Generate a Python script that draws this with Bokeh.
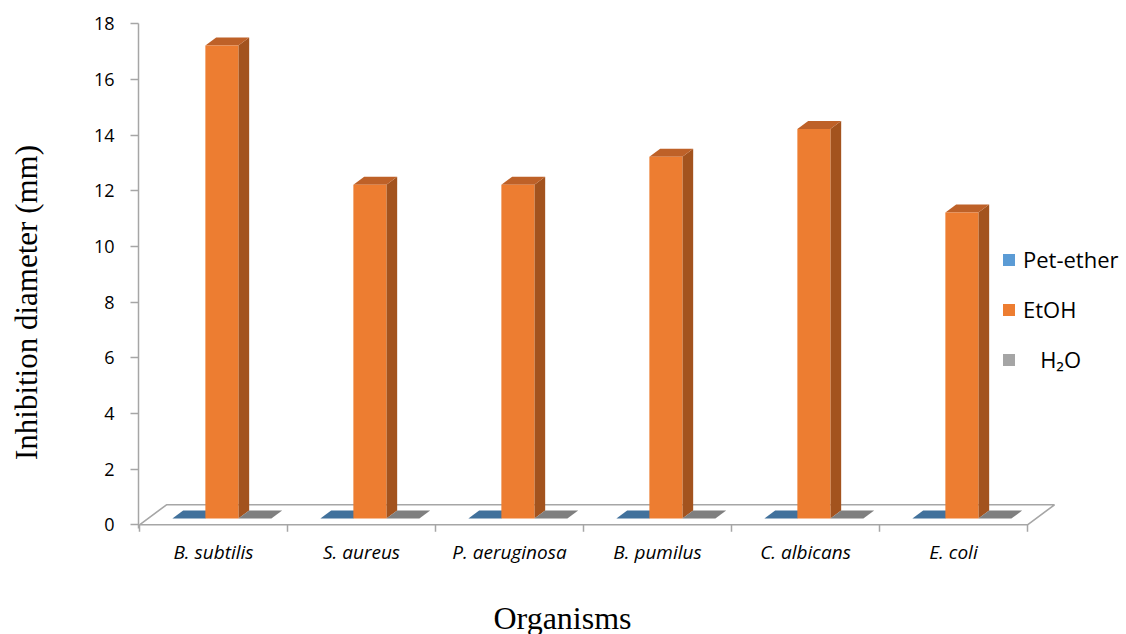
import math

from bokeh.plotting import figure
from bokeh.models import (Range1d, LinearAxis, FixedTicker, Legend, LegendItem,
                          Label, ColumnDataSource)
from bokeh.core.properties import value
from bokeh.embed import file_html
from bokeh.resources import INLINE

# ---- data -------------------------------------------------------------
organisms = ["B. subtilis", "S. aureus", "P. aeruginosa", "B. pumilus", "C. albicans", "E. coli"]
series_names = ["Pet-ether", "EtOH", "\u00a0\u00a0\u00a0H\u2082O"]
pet_ether = [0, 0, 0, 0, 0, 0]
etoh = [17, 12, 12, 13, 14, 11]
h2o = [0, 0, 0, 0, 0, 0]
y_ticks = [0, 2, 4, 6, 8, 10, 12, 14, 16, 18]

series_values = [pet_ether, etoh, h2o]

# face colours per series: (front, top, side)
face_colors = [
    ("#5B9BD5", "#41719C", "#2E5F8A"),
    ("#ED7D31", "#BE6128", "#A3531E"),
    ("#A5A5A5", "#7F7F7F", "#6E6E6E"),
]

# ---- 3-D projection helpers ------------------------------------------
PX_PER_CAT = 148.0
PX_PER_UNIT = 27.83
ORIGIN_X, ORIGIN_Y = 139.0, 524.3   # canvas pixel of (category 0, value 0)
DEPTH_DX = 27.0 / PX_PER_CAT      # floor depth, horizontal shift (category units)
DEPTH_DY = 20.0 / PX_PER_UNIT     # floor depth, vertical shift (value units)
D_FRONT, D_BACK = 0.31, 0.71      # bar depth inside the floor
BAR_W = 33.0 / PX_PER_CAT
n_cat = len(organisms)
W, H = 1126, 634


def px_to_x(px):
    return (px - ORIGIN_X) / PX_PER_CAT


def px_to_y(py):
    return (ORIGIN_Y - py) / PX_PER_UNIT


def proj(x, y, d):
    return x + d * DEPTH_DX, y + d * DEPTH_DY


def poly(points):
    xs, ys = zip(*[proj(*pt) for pt in points])
    return list(xs), list(ys)


# the plot frame covers the whole canvas; the value axis sits at a fixed spot
p = figure(width=W, height=H,
           x_range=Range1d(px_to_x(0), px_to_x(W)),
           y_range=Range1d(px_to_y(H), px_to_y(0)),
           output_backend="svg", toolbar_location=None,
           x_axis_location=None, y_axis_location=None,
           min_border_left=0, min_border_right=0,
           min_border_top=0, min_border_bottom=0)
p.outline_line_color = None
p.background_fill_color = "white"
p.border_fill_color = "white"
p.grid.grid_line_color = None

GRID_GRAY = "#A6A6A6"

# floor
fx, fy = poly([(0, 0, 0), (n_cat, 0, 0), (n_cat, 0, 1), (0, 0, 1)])
p.patch(fx, fy, fill_color="white", line_color=GRID_GRAY, line_width=1.6)

# category tick marks under the floor's front edge
p.segment(x0=list(range(n_cat + 1)), y0=[0] * (n_cat + 1),
          x1=list(range(n_cat + 1)), y1=[-0.25] * (n_cat + 1),
          line_color=GRID_GRAY, line_width=1.5)

# bars
front_renderers = []
for s, vals in enumerate(series_values):
    front_c, top_c, side_c = face_colors[s]
    fronts, tops, sides = ([], []), ([], []), ([], [])
    for i, v in enumerate(vals):
        xl = i + 0.5 + (s - 1) * BAR_W - BAR_W / 2
        xr = xl + BAR_W
        for store, pts in (
            (sides, [(xr, 0, D_FRONT), (xr, 0, D_BACK), (xr, v, D_BACK), (xr, v, D_FRONT)]),
            (tops, [(xl, v, D_FRONT), (xr, v, D_FRONT), (xr, v, D_BACK), (xl, v, D_BACK)]),
            (fronts, [(xl, 0, D_FRONT), (xr, 0, D_FRONT), (xr, v, D_FRONT), (xl, v, D_FRONT)]),
        ):
            xs, ys = poly(pts)
            store[0].append(xs)
            store[1].append(ys)
    p.patches(sides[0], sides[1], fill_color=side_c, line_color=None)
    p.patches(tops[0], tops[1], fill_color=top_c, line_color=None)
    r = p.patches(fronts[0], fronts[1], fill_color=front_c, line_color=None)
    front_renderers.append(r)

# category labels
cat_src = ColumnDataSource(dict(x=[i + 0.5 for i in range(n_cat)],
                                y=[px_to_y(551.5)] * n_cat,
                                text=organisms))
p.text(x="x", y="y", text="text", source=cat_src,
       text_font=value("Open Sans"), text_font_style="italic",
       text_font_size="19px",
       text_align="center", text_baseline="middle", text_color="black")

# value axis
yaxis = LinearAxis(bounds=(-0.14, 18), ticker=FixedTicker(ticks=y_ticks),
                   fixed_location=px_to_x(138))
yaxis.axis_line_color = GRID_GRAY
yaxis.axis_line_width = 1.5
yaxis.major_tick_line_color = GRID_GRAY
yaxis.major_tick_line_width = 1.5
yaxis.major_tick_out = 8
yaxis.major_tick_in = 0
yaxis.minor_tick_line_color = None
yaxis.major_label_text_font = "Open Sans"
yaxis.major_label_text_font_size = "18px"
yaxis.major_label_text_color = "black"
yaxis.major_label_standoff = 16
p.add_layout(yaxis, "left")

# axis titles
p.add_layout(Label(x=px_to_x(26), y=px_to_y(302),
                   text="Inhibition diameter (mm)", angle=math.pi / 2,
                   text_align="center", text_baseline="middle",
                   text_font="Liberation Serif", text_font_size="31px",
                   text_color="black"))
p.add_layout(Label(x=px_to_x(562), y=px_to_y(617),
                   text="Organisms", text_align="center", text_baseline="middle",
                   text_font="Liberation Serif", text_font_size="32px",
                   text_color="black"))

# legend
legend = Legend(items=[LegendItem(label=name, renderers=[r])
                       for name, r in zip(series_names, front_renderers)],
                location=(1001, 260), orientation="vertical",
                glyph_width=15, glyph_height=15, label_height=28,
                spacing=20, padding=0, margin=0, label_standoff=7,
                label_text_font="Open Sans", label_text_font_size="22px",
                label_text_color="black",
                border_line_color=None, background_fill_alpha=0)
p.add_layout(legend)

open("out.html", "w").write(file_html(p, INLINE))
